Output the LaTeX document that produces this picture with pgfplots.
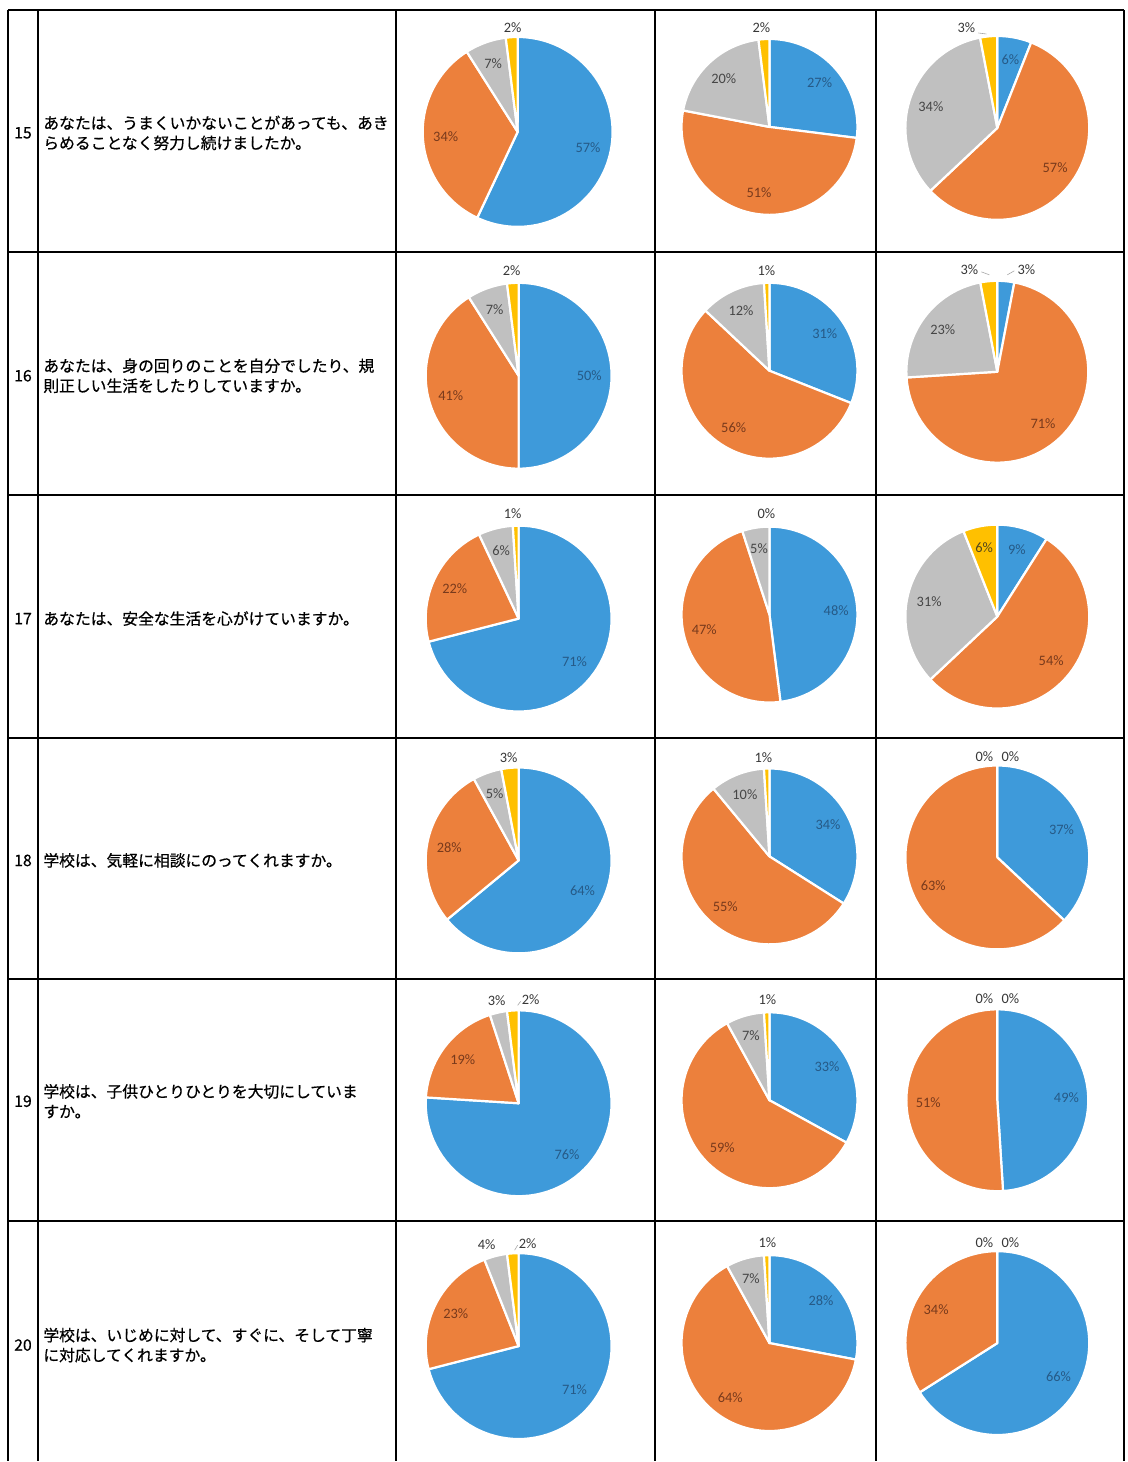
\documentclass[border=0pt]{standalone}
\usepackage{pgfplots}
\pgfplotsset{compat=1.18}
\usepgfplotslibrary{polar}
\usepackage{fontspec}
\setmainfont{Noto Sans CJK JP}
\newfontfamily\qfam{Noto Sans CJK JP}[FakeBold=0.6]
\newfontfamily\carlito{Carlito}
\definecolor{cB}{RGB}{62,154,218}
\definecolor{cO}{RGB}{236,128,60}
\definecolor{cG}{RGB}{192,192,192}
\definecolor{cY}{RGB}{255,192,0}
\definecolor{lB}{RGB}{38,90,135}
\definecolor{lO}{RGB}{120,58,28}
\definecolor{lG}{RGB}{70,70,70}
\definecolor{lY}{RGB}{80,70,30}
\definecolor{lOut}{RGB}{55,55,55}
\newcommand\pctfont{\carlito\fontsize{7.2pt}{7.5pt}\selectfont}
\newcommand\qfont{\qfam\fontsize{7.9pt}{10pt}\selectfont}

% one slice: start angle, end angle, colour, value, label colour
\newcommand{\slice}[5]{%
  \ifdim #4pt>0pt
    \edef\doslice{\noexpand\addplot[fill=#3, draw=white, line width=1.1pt, line join=round, domain=#1:#2, samples=72, forget plot] {1} -- (axis cs:0,0) -- cycle;}%
    \doslice
    \ifdim #4pt<5pt\else
      \pgfmathsetmacro\midang{(#1+#2)/2}%
      \edef\dolabel{\noexpand\node[font=\noexpand\pctfont, text=#5] at (axis cs:\midang,0.76) {#4\noexpand\%};}%
      \dolabel
    \fi
  \fi}

% pie: x, y (px), radius (px), four values
\newcommand{\pie}[7]{%
  \pgfmathsetmacro\aA{90}%
  \pgfmathsetmacro\aB{90-3.6*#4}%
  \pgfmathsetmacro\aC{\aB-3.6*#5}%
  \pgfmathsetmacro\aD{\aC-3.6*#6}%
  \pgfmathsetmacro\aE{\aD-3.6*#7}%
  \begin{polaraxis}[at={({#1*0.5pt},{-#2*0.5pt})}, anchor=center, hide axis,
      scale only axis, width={#3*1pt}, height={#3*1pt},
      xmin=0, xmax=360, ymin=0, ymax=1, clip=false]
    \slice{\aB}{\aA}{cB}{#4}{lB}
    \slice{\aC}{\aB}{cO}{#5}{lO}
    \slice{\aD}{\aC}{cG}{#6}{lG}
    \slice{\aE}{\aD}{cY}{#7}{lY}
  \end{polaraxis}}

\begin{document}
\begin{tikzpicture}
\begin{scope}[x=0.5pt,y=-0.5pt]
  \fill[white] (0,0) rectangle (1128,1462);
  % table grid
  \begin{scope}[line width=1pt, black]
    \foreach \yy in {10,252,495,738,980,1222} {\draw (8,\yy) -- (1125,\yy);}
    \foreach \xx in {8,38,396,655,877,1125} {\draw (\xx,10) -- (\xx,1462);}
  \end{scope}
  % numbers
  \node[font=\qfont] at (23,133) {15};
  \node[font=\qfont] at (23,376) {16};
  \node[font=\qfont] at (23,619) {17};
  \node[font=\qfont] at (23,861) {18};
  \node[font=\qfont] at (23,1102) {19};
  \node[font=\qfont] at (23,1346) {20};
  % questions
  \node[anchor=west, align=left, font=\qfont, inner xsep=0pt] at (43,133) {あなたは、うまくいかないことがあっても、あき\\らめることなく努力し続けましたか。};
  \node[anchor=west, align=left, font=\qfont, inner xsep=0pt] at (43,376) {あなたは、身の回りのことを自分でしたり、規\\則正しい生活をしたりしていますか。};
  \node[anchor=west, align=left, font=\qfont, inner xsep=0pt] at (43,619) {あなたは、安全な生活を心がけていますか。};
  \node[anchor=west, align=left, font=\qfont, inner xsep=0pt] at (43,861) {学校は、気軽に相談にのってくれますか。};
  \node[anchor=west, align=left, font=\qfont, inner xsep=0pt] at (43,1102) {学校は、子供ひとりひとりを大切にしていま\\すか。};
  \node[anchor=west, align=left, font=\qfont, inner xsep=0pt] at (43,1346) {学校は、いじめに対して、すぐに、そして丁寧\\に対応してくれますか。};
\end{scope}

% pies: x, y, r, blue, orange, gray, yellow
\pie{518}{132}{95}{57}{34}{7}{2}
\pie{770}{127}{88}{27}{51}{20}{2}
\pie{998}{128}{92}{6}{57}{34}{3}
\pie{519}{376}{93}{50}{41}{7}{2}
\pie{770}{371}{88}{31}{56}{12}{1}
\pie{998}{372}{91}{3}{71}{23}{3}
\pie{519}{619}{93}{71}{22}{6}{1}
\pie{770}{615}{88}{48}{47}{5}{0}
\pie{998}{617}{92}{9}{54}{31}{6}
\pie{519}{861}{93}{64}{28}{5}{3}
\pie{770}{857}{88}{34}{55}{10}{1}
\pie{998}{858}{92}{37}{63}{0}{0}
\pie{519}{1104}{93}{76}{19}{3}{2}
\pie{770}{1101}{88}{33}{59}{7}{1}
\pie{998}{1101}{91}{49}{51}{0}{0}
\pie{519}{1347}{93}{71}{23}{4}{2}
\pie{770}{1344}{88}{28}{64}{7}{1}
\pie{998}{1344}{92}{66}{34}{0}{0}

% outside labels
\begin{scope}[x=0.5pt,y=-0.5pt]
  \tikzset{ol/.style={font=\pctfont, text=lOut, inner sep=0pt}}
  \node[ol] at (513,28) {2\%};
  \node[ol] at (762,28) {2\%};
  \node[ol] at (967,28) {3\%};
  \draw[gray!70, line width=0.3pt] (979,33) -- (987,34);
  \node[ol] at (512,271) {2\%};
  \node[ol] at (767,271) {1\%};
  \node[ol] at (970,270) {3\%};
  \draw[gray!70, line width=0.3pt] (982,272) -- (990,275);
  \node[ol] at (1027,270) {3\%};
  \draw[gray!70, line width=0.3pt] (1008,275) -- (1015,271);
  \node[ol] at (513,514) {1\%};
  \node[ol] at (767,514) {0\%};
  \node[ol] at (509,758) {3\%};
  \node[ol] at (764,758) {1\%};
  \node[ol] at (985,757) {0\%};
  \node[ol] at (1011,757) {0\%};
  \node[ol] at (497,1001) {3\%};
  \node[ol] at (531,1000) {2\%};
  \draw[gray!70, line width=0.3pt] (518,1006) -- (521,1002);
  \node[ol] at (768,1000) {1\%};
  \node[ol] at (985,999) {0\%};
  \node[ol] at (1011,999) {0\%};
  \node[ol] at (487,1245) {4\%};
  \node[ol] at (528,1244) {2\%};
  \draw[gray!70, line width=0.3pt] (515,1251) -- (518,1246);
  \node[ol] at (768,1243) {1\%};
  \node[ol] at (985,1243) {0\%};
  \node[ol] at (1011,1243) {0\%};
\end{scope}
\end{tikzpicture}
\end{document}
